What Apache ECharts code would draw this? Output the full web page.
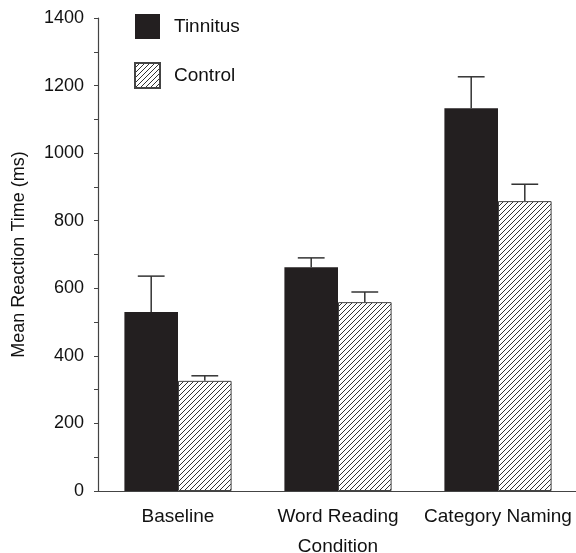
<!DOCTYPE html>
<html>
<head>
<meta charset="utf-8">
<script src="https://cdn.jsdelivr.net/npm/echarts@6/dist/echarts.min.js"></script>
<style>html,body{margin:0;padding:0;background:#fff;}#c{width:576px;height:553px;}</style>
</head>
<body>
<div id="c"></div>
<script>
var categories = ['Baseline', 'Word Reading', 'Category Naming'];
var tinnitusMean = [530, 662, 1133];
var tinnitusErr = [106, 28, 93];
var controlMean = [326, 559, 858];
var controlErr = [15, 30, 50];
var yMin = 0, yMax = 1400, yInterval = 100, yLabelStep = 200;

// hatch pattern
var p = 5;
var cv = document.createElement('canvas');
cv.width = p; cv.height = p;
var cx = cv.getContext('2d');
cx.fillStyle = '#fff'; cx.fillRect(0, 0, p, p);
cx.strokeStyle = '#333'; cx.lineWidth = 1;
cx.beginPath();
cx.moveTo(-1, p + 1); cx.lineTo(p + 1, -1);
cx.moveTo(-1, 1); cx.lineTo(1, -1);
cx.moveTo(p - 1, p + 1); cx.lineTo(p + 1, p - 1);
cx.stroke();

var FONT = 'Liberation Sans';
var GAP = 0.33;

function errSeries(means, errs, side) {
  return {
    type: 'custom',
    z: 5,
    silent: true,
    data: means.map(function (m, i) { return [i, m, errs[i]]; }),
    encode: { x: 0, y: 1 },
    renderItem: function (params, api) {
      var i = api.value(0), m = api.value(1), e = api.value(2);
      var band = api.size([1, 0])[0];
      var barW = band * (1 - GAP) / 2;
      var base = api.coord([i, m]);
      var top = api.coord([i, m + e]);
      var x = base[0] + side * barW / 2;
      var cap = barW / 2;
      return {
        type: 'group',
        children: [
          { type: 'line', shape: { x1: x, y1: base[1], x2: x, y2: top[1] }, style: { stroke: '#333', lineWidth: 1.5 } },
          { type: 'line', shape: { x1: x - cap / 2, y1: top[1], x2: x + cap / 2, y2: top[1] }, style: { stroke: '#333', lineWidth: 1.5 } }
        ]
      };
    }
  };
}

var chart = echarts.init(document.getElementById('c'), null, { renderer: 'canvas' });
chart.setOption({
  animation: false,
  backgroundColor: '#fff',
  textStyle: { fontFamily: FONT },
  grid: { left: 98, top: 18, width: 480, height: 473, containLabel: false, outerBoundsMode: 'none' },
  legend: {
    data: ['Tinnitus', 'Control'],
    orient: 'vertical',
    left: 134, top: 14, padding: 0,
    itemWidth: 25, itemHeight: 25, itemGap: 23,
    icon: 'rect',
    textStyle: { fontFamily: FONT, fontSize: 19, color: '#111', padding: [0, 0, 0, 9] }
  },
  xAxis: {
    type: 'category',
    data: categories,
    name: 'Condition',
    nameLocation: 'middle',
    nameGap: 46,
    nameTextStyle: { fontFamily: FONT, fontSize: 19, color: '#111' },
    axisLine: { lineStyle: { color: '#444', width: 1.2 } },
    axisTick: { alignWithLabel: true, length: 5, lineStyle: { color: '#444' } },
    axisLabel: { interval: 0, fontFamily: FONT, fontSize: 19, color: '#111', margin: 16 },
    splitLine: { show: false }
  },
  yAxis: {
    type: 'value',
    min: yMin, max: yMax, interval: yInterval,
    name: 'Mean Reaction Time (ms)',
    nameLocation: 'middle',
    nameGap: 70,
    nameTextStyle: { fontFamily: FONT, fontSize: 18, color: '#111' },
    axisLine: { show: true, lineStyle: { color: '#444', width: 1.2 } },
    axisTick: { show: true, length: 4, lineStyle: { color: '#444' } },
    axisLabel: {
      fontFamily: FONT, fontSize: 18, color: '#111', margin: 14,
      formatter: function (v) { return v % yLabelStep === 0 ? String(v) : ''; }
    },
    splitLine: { show: false }
  },
  series: [
    {
      name: 'Tinnitus', type: 'bar', data: tinnitusMean,
      barGap: '0%', barCategoryGap: (GAP * 100) + '%',
      itemStyle: { color: '#231f20' }
    },
    {
      name: 'Control', type: 'bar', data: controlMean,
      barGap: '0%', barCategoryGap: (GAP * 100) + '%',
      itemStyle: { color: { image: cv, repeat: 'repeat' }, borderColor: '#444', borderWidth: 1 }
    },
    errSeries(tinnitusMean, tinnitusErr, -1),
    errSeries(controlMean, controlErr, 1)
  ]
});
</script>
</body>
</html>
